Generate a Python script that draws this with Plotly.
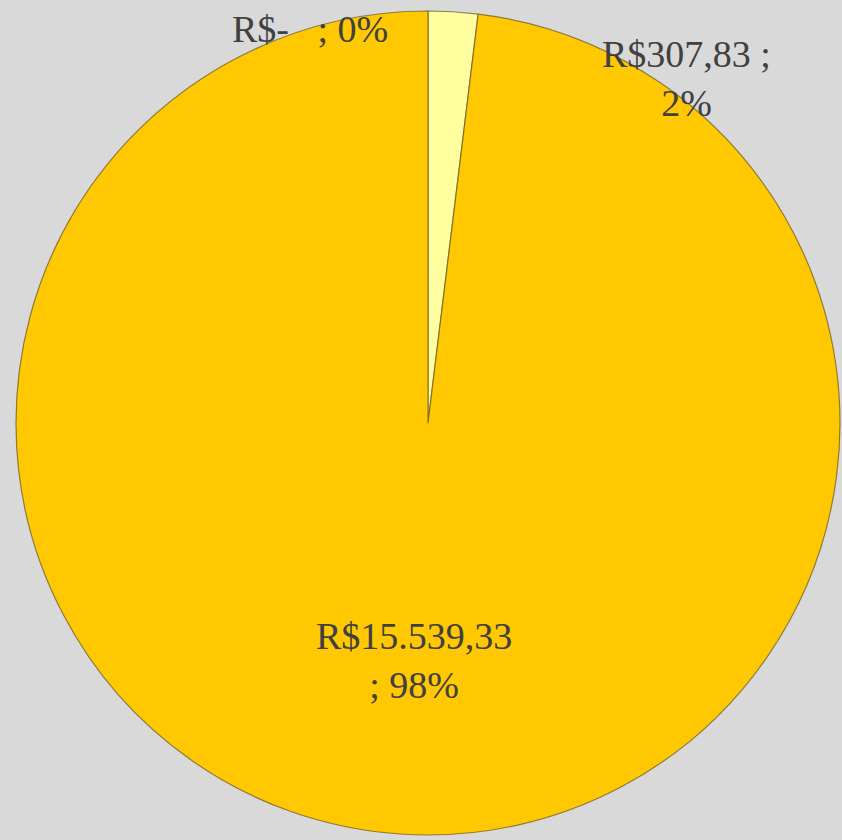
import plotly.graph_objects as go

# slice data (clockwise from 12 o'clock)
values = [0, 307.83, 15539.33]
value_labels = ["R$-   ", "R$307,83 ", "R$15.539,33"]
colors = ["#ffc800", "#ffffa0", "#ffc800"]

W, H = 842, 840
total = sum(values)
pcts = [round(v / total * 100) for v in values]

fig = go.Figure(go.Pie(
    values=values,
    labels=["a", "b", "c"],
    sort=False,
    direction="clockwise",
    rotation=0,
    textinfo="none",
    hoverinfo="skip",
    showlegend=False,
    marker=dict(colors=colors, line=dict(color="rgba(110,95,40,0.75)", width=1.2)),
    domain=dict(x=[(428 - 412) / W, (428 + 412) / W], y=[1 - 835 / H, 1 - 11 / H]),
))

# label text + pixel position (centre of the text block)
label_text = [
    f"{value_labels[0]}; {pcts[0]}%",
    f"{value_labels[1]};<br>{pcts[1]}%",
    f"{value_labels[2]}<br>; {pcts[2]}%",
]
label_pos = [(310, 29), (686, 78), (414, 660)]

for txt, (px, py) in zip(label_text, label_pos):
    fig.add_annotation(
        text=txt, x=px / W, y=1 - py / H, xref="paper", yref="paper",
        xanchor="center", yanchor="middle", showarrow=False, align="center",
        font=dict(family="Liberation Serif", size=38, color="#404040"),
    )

fig.update_layout(
    width=W, height=H,
    margin=dict(l=0, r=0, t=0, b=0),
    paper_bgcolor="#d9d9d9",
    plot_bgcolor="#d9d9d9",
)

# drop the default page margin so the figure fills the window
fig.write_html("out.html", config={"displayModeBar": False},
               post_script="document.body.style.margin='0';document.body.style.overflow='hidden';")
